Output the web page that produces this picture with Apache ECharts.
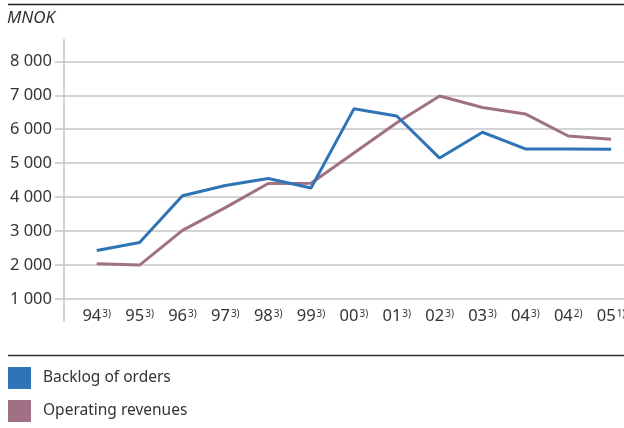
<!DOCTYPE html>
<html>
<head>
<meta charset="utf-8">
<script src="https://cdn.jsdelivr.net/npm/echarts@6/dist/echarts.min.js"></script>
<style>
    html, body {margin: 0; padding: 0; background: #fff;}
    #chart {width: 624px; height: 428px;}
</style>
</head>
<body>
<div id="chart"></div>
<script>
// years on the axis, with their footnote marks
var years = ["94", "95", "96", "97", "98", "99", "00", "01", "02", "03", "04", "04", "05"];
var notes = ["3)", "3)", "3)", "3)", "3)", "3)", "3)", "3)", "3)", "3)", "3)", "2)", "1)"];
var backlog = [2430, 2665, 4040, 4340, 4550, 4270, 6600, 6390, 5150, 5910, 5420, 5420, 5410];
var revenues = [2040, 2000, 3020, 3690, 4400, 4410, 5300, 6190, 6980, 6640, 6450, 5800, 5705];
var yTicks = [1000, 8000, 1000]; // min, max, step

var font = "Noto Sans";
var blue = "#2f74b5";
var mauve = "#a07085";

var chart = echarts.init(document.getElementById("chart"));

var labels = years.map(function (y, i) {
    return y + "|" + notes[i];
});

chart.setOption({
    animation: false,
    textStyle: {fontFamily: font},
    title: {
        text: "MNOK",
        left: 7,
        top: 10,
        padding: 0,
        textStyle: {fontSize: 17, fontStyle: 'italic', fontWeight: 'normal', fontFamily: font, color: "#333"}
    },
    grid: [
        {left: 75.3, width: 557.2, top: 61.3, height: 237.7, outerBoundsMode: 'none', containLabel: false},
        {left: 55, right: 0, top: 61.3, height: 237.7, outerBoundsMode: 'none', containLabel: false}
    ],
    xAxis: [
        {
            gridIndex: 0,
            type: 'category',
            data: labels,
            boundaryGap: true,
            axisLine: {show: false},
            axisTick: {show: false},
            axisLabel: {
                interval: 0,
                margin: 8,
                hideOverlap: false,
                formatter: function (v) {
                    var p = v.split("|");
                    return "{a|" + p[0] + "}{s|" + p[1] + "}";
                },
                rich: {
                    a: {fontSize: 16.5, color: "#333", fontFamily: font, lineHeight: 18, verticalAlign: 'bottom'},
                    s: {fontSize: 10, color: "#333", fontFamily: font, lineHeight: 18, verticalAlign: 'top', padding: [2, 0, 0, 1]}
                }
            }
        },
        {gridIndex: 1, type: 'value', show: false, min: 0, max: 1}
    ],
    yAxis: [
        {gridIndex: 0, type: 'value', min: yTicks[0], max: yTicks[1], show: false},
        {
            gridIndex: 1,
            type: 'value',
            min: yTicks[0],
            max: yTicks[1],
            interval: yTicks[2],
            axisLine: {show: false},
            axisTick: {show: false},
            splitLine: {lineStyle: {color: "#c6c6c6", width: 1.5}},
            axisLabel: {
                margin: 3,
                fontSize: 16.5,
                color: "#333",
                fontFamily: font,
                formatter: function (v) {
                    return String(v).replace(/\B(?=(\d{3})+(?!\d))/g, " ");
                }
            }
        }
    ],
    legend: {
        orient: 'vertical',
        left: 8,
        top: 367,
        padding: 0,
        itemWidth: 23,
        itemHeight: 22,
        itemGap: 11,
        icon: 'rect',
        textStyle: {fontSize: 15.5, color: "#333", fontFamily: font, padding: [0, 0, 0, 7]},
        data: ["Backlog of orders", "Operating revenues"]
    },
    graphic: [
        {type: 'line', shape: {x1: 8, y1: 4.5, x2: 624, y2: 4.5}, style: {stroke: "#222", lineWidth: 1.5}},
        {type: 'line', shape: {x1: 64, y1: 39, x2: 64, y2: 322}, style: {stroke: "#c6c6c6", lineWidth: 1.5}},
        {type: 'line', shape: {x1: 8, y1: 355.5, x2: 624, y2: 355.5}, style: {stroke: "#333", lineWidth: 1.5}}
    ],
    series: [
        {
            name: "Operating revenues",
            type: 'line',
            xAxisIndex: 0,
            yAxisIndex: 0,
            data: revenues,
            symbol: 'none',
            color: mauve,
            lineStyle: {color: mauve, width: 3}
        },
        {
            name: "Backlog of orders",
            type: 'line',
            xAxisIndex: 0,
            yAxisIndex: 0,
            data: backlog,
            symbol: 'none',
            color: blue,
            lineStyle: {color: blue, width: 3}
        }
    ]
});
</script>
</body>
</html>
